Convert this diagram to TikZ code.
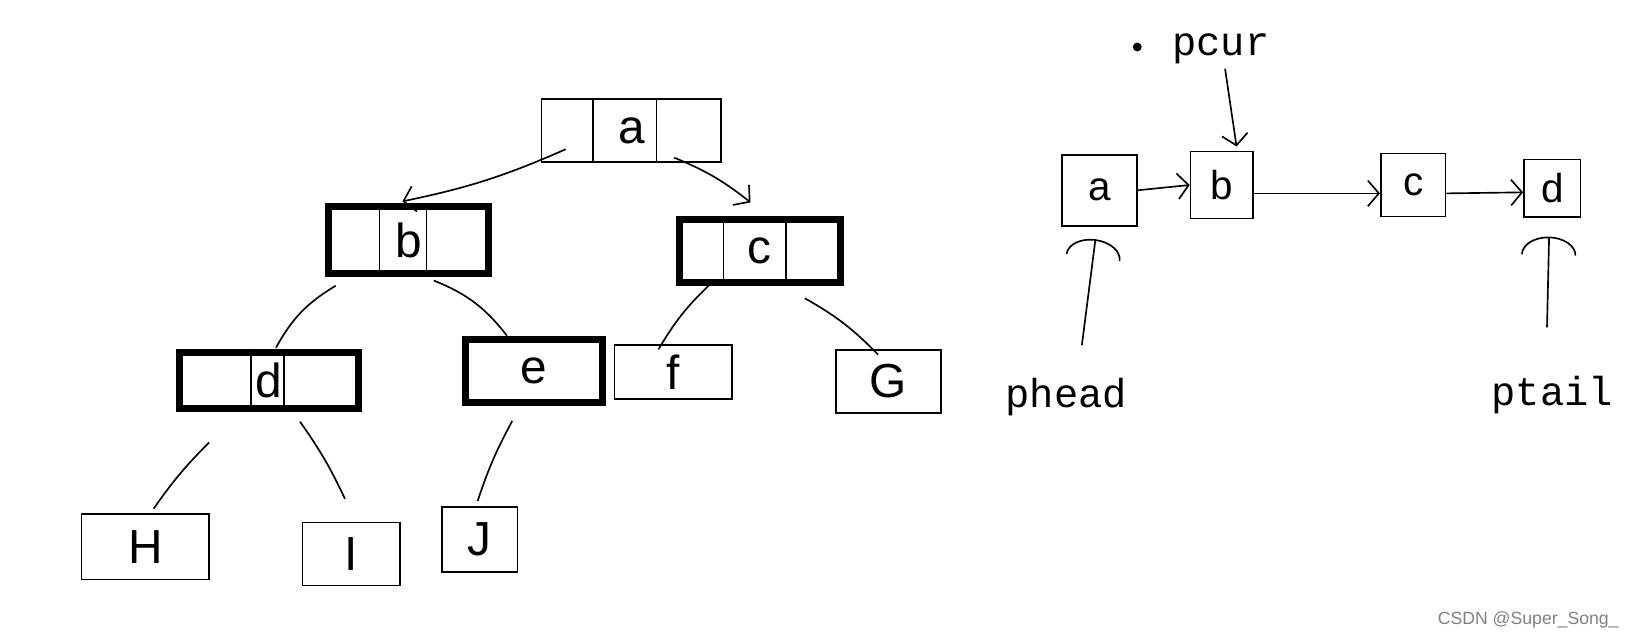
\documentclass[tikz,border=0pt]{standalone}
\usepackage{fontspec}
\setmainfont{Liberation Sans}
\newfontfamily\ptrfont{Liberation Mono}
\usetikzlibrary{arrows.meta,calc}

\tikzset{
  thinbox/.style={draw, line width=0.45pt, inner sep=0pt, font=\fontsize{13}{13}\selectfont},
  thickbox/.style={draw, line width=1.9pt, inner sep=0pt, font=\fontsize{13}{13}\selectfont},
  listbox/.style={draw, line width=0.45pt, inner sep=0pt, font=\fontsize{11}{11}\selectfont},
  edge/.style={line width=0.45pt},
  ptr/.style={line width=0.45pt, -{Straight Barb[length=3pt,width=7pt]}},
  headptr/.style={line width=0.45pt, -{Arc Barb[length=5pt,width=15pt]}},
  ptrlabel/.style={font=\ptrfont\fontsize{11}{11}\selectfont, anchor=base, inner sep=0pt},
}

\begin{document}
\begin{tikzpicture}[x=0.01cm, y=-0.01cm]
    \useasboundingbox (0,0) rectangle (1568,612);

    \node[thinbox, minimum width=1.72cm, minimum height=0.60cm] (a) at (604,125) {a};
    \node[thickbox, minimum width=1.53cm, minimum height=0.64cm] (b) at (391,230) {b};
    \node[thickbox, minimum width=1.54cm, minimum height=0.60cm] (c) at (727,240) {c};
    \node[thickbox, minimum width=1.71cm, minimum height=0.54cm] (d) at (257,364) {d};
    \node[thickbox, minimum width=1.31cm, minimum height=0.61cm] (e) at (511,355) {e};
    \node[thinbox, minimum width=1.12cm, minimum height=0.52cm] (f) at (644,356) {f};
    \node[thinbox, minimum width=1.00cm, minimum height=0.60cm] (G) at (850,365) {G};
    \node[thinbox, minimum width=1.22cm, minimum height=0.63cm] (H) at (139,523) {H};
    \node[thinbox, minimum width=0.93cm, minimum height=0.60cm] (I) at (336,530) {I};
    \node[thinbox, minimum width=0.72cm, minimum height=0.62cm] (J) at (459,516) {J};

    \foreach \n/\dx in {a/-37, a/24, b/-28, b/17, c/-35, c/25, d/-17, d/15}
        \draw[edge] ($(\n.north)+(\dx,0)$) -- ($(\n.south)+(\dx,0)$);

    \draw[ptr] ($(a.south west)+(24,-13)$) to[bend left=6] ($(b.north)+(-6,-2)$);
    \draw[ptr] ($(a.south)+(41,-5)$) to[bend left=8] ($(c.north)+(-9,-13)$);
    \draw[edge] ($(b.south west)+(10,8)$) to[bend right=15] ($(d.north)+(7,-1)$);
    \draw[edge] ($(b.south)+(24,3)$) to[bend left=15] ($(e.north)+(-26,0)$);
    \draw[edge] ($(c.south)+(-47,-2)$) to[bend right=8] ($(f.north)+(-14,5)$);
    \draw[edge] ($(c.south)+(43,12)$) to[bend left=8] ($(G.north)+(-10,5)$);
    \draw[edge] ($(d.south)+(-57,29)$) to[bend right=5] ($(H.north)+(8,-4)$);
    \draw[edge] ($(d.south)+(30,9)$) to[bend left=5] ($(I.north)+(-6,-22)$);
    \draw[edge] ($(e.south)+(-21,14)$) to[bend right=5] ($(J.north)+(-2,-5)$);

    \node[listbox, minimum width=0.72cm, minimum height=0.68cm] (la) at (1052,182) {a};
    \node[listbox, minimum width=0.60cm, minimum height=0.64cm] (lb) at (1169,177) {b};
    \node[listbox, minimum width=0.62cm, minimum height=0.60cm] (lc) at (1352,177) {c};
    \node[listbox, minimum width=0.54cm, minimum height=0.55cm] (ld) at (1485,180) {d};

    \draw[ptr] (la.east) -- (lb.west);
    \draw[ptr] ([yshift=-0.08cm]lb.east) -- ([yshift=-0.08cm]lc.west);
    \draw[ptr] ([yshift=-0.08cm]lc.east) -- ([yshift=-0.04cm]ld.west);

    \node[ptrlabel] (pcur) at (1168,53) {pcur};
    \node[ptrlabel] (phead) at (1020,390) {phead};
    \node[ptrlabel] (ptail) at (1485,388) {ptail};
    \fill (1088,45) circle (1.2pt);

    \draw[ptr] ($(pcur.south)+(4,4)$) -- ($(lb.north)+(14,-4)$);
    \draw[headptr] ($(phead.north)+(15,-31)$) -- ($(la.south)+(-4,12)$);
    \draw[headptr] ($(ptail.north)+(-5,-46)$) -- ($(ld.south)+(-3,18)$);

    \node[gray, font=\fontsize{4.8}{5}\selectfont] (mark) at (1462,593) {CSDN @Super\_Song\_};
\end{tikzpicture}
\end{document}
